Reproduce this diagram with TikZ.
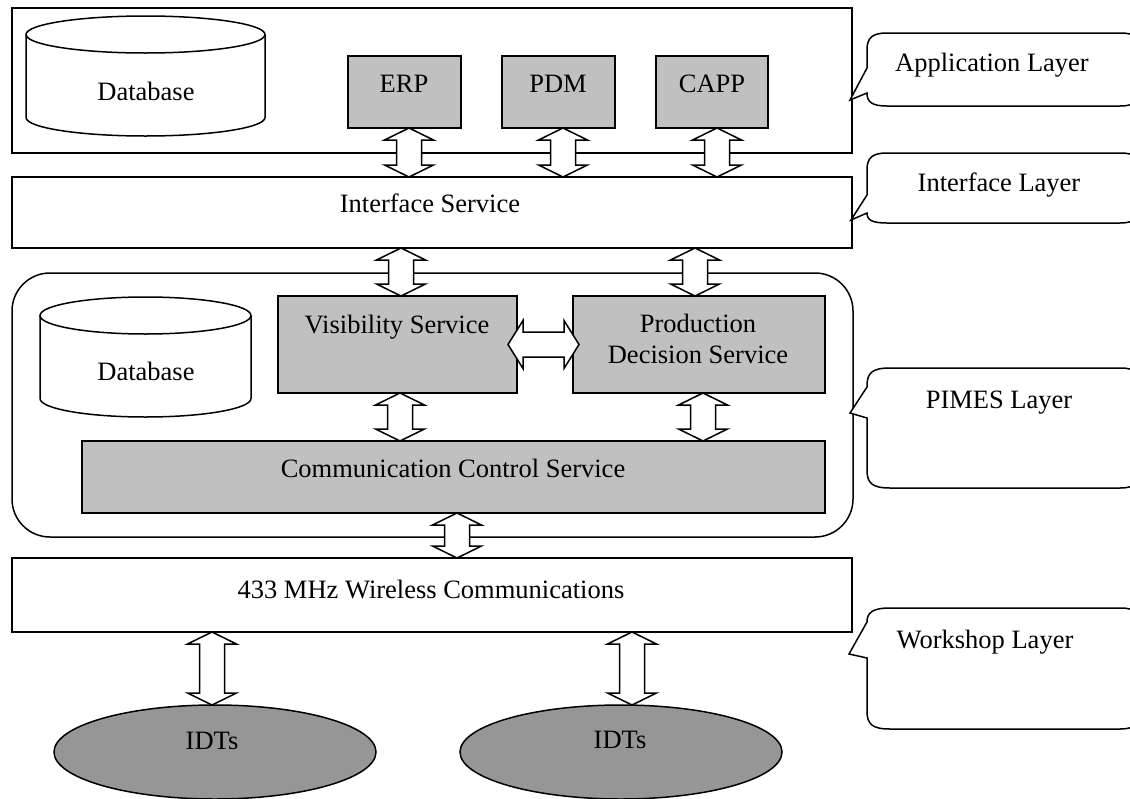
\documentclass[tikz,border=0pt]{standalone}
\usepackage{fontspec}
\setmainfont{Liberation Serif}
\usetikzlibrary{shapes.geometric,calc}
\definecolor{boxgray}{HTML}{C0C0C0}
\definecolor{idtgray}{HTML}{969696}
\newcommand{\dblV}[3]{\draw[barrow] let \p1=#1, \p2=#2, \p3=#3 in
  (\x1,\y2) -- (\x1+24.5pt,\y2-12pt) -- (\x1+12.5pt,\y2-12pt) -- (\x1+12.5pt,\y3+12pt)
  -- (\x1+24.5pt,\y3+12pt) -- (\x1,\y3) -- (\x1-24.5pt,\y3+12pt) -- (\x1-12.5pt,\y3+12pt)
  -- (\x1-12.5pt,\y2-12pt) -- (\x1-24.5pt,\y2-12pt) -- cycle;}
\newcommand{\dblH}[2]{\draw[barrow] let \p1=#1, \p2=#2 in
  (\x1,\y1) -- (\x1+15pt,\y1+24pt) -- (\x1+15pt,\y1+12.5pt) -- (\x2-15pt,\y1+12.5pt)
  -- (\x2-15pt,\y1+24pt) -- (\x2,\y1) -- (\x2-15pt,\y1-24pt) -- (\x2-15pt,\y1-12.5pt)
  -- (\x1+15pt,\y1-12.5pt) -- (\x1+15pt,\y1-24pt) -- cycle;}
\begin{document}
\begin{tikzpicture}[x=1pt,y=-1pt, line width=1.5pt, line join=miter,
  box/.style={draw, line width=1.5pt, anchor=north west, inner sep=0pt, outer sep=0pt},
  gbox/.style={box, fill=boxgray},
  lbl/.style={font=\fontsize{26.5}{31}\selectfont, inner sep=0pt, anchor=base},
  barrow/.style={draw, fill=white, line width=1.5pt},
  callout/.style={draw, fill=white, line width=1.5pt}]
\useasboundingbox (0,0) rectangle (1130,798);
\fill[white] (0,0) rectangle (1130,798);
\clip (0,0) rectangle (1130,798);

% Application layer
\node[box, minimum width=840pt, minimum height=145pt] (app) at (12,8) {};
\draw[fill=white] (26,34.5) -- (26,117.5) arc[start angle=180,end angle=360,x radius=119.5pt,y radius=18.5pt] -- (265,34.5);
\draw (145.5,34.5) ellipse[x radius=119.5pt, y radius=18.5pt];
\node[lbl] (db1t) at (146,100) {Database};
\node[gbox, minimum width=113pt, minimum height=72pt] (erp) at (348,56) {};
\node[lbl] (erpt) at (404,92) {ERP};
\node[gbox, minimum width=113pt, minimum height=72pt] (pdm) at (502,56) {};
\node[lbl] (pdmt) at (558,92) {PDM};
\node[gbox, minimum width=112pt, minimum height=72pt] (capp) at (656,56) {};
\node[lbl] (cappt) at (712,92) {CAPP};

% Interface layer
\node[box, minimum width=840pt, minimum height=71pt] (iface) at (12,177) {};
\node[lbl] (ifacet) at (430,212) {Interface Service};

% PIMES layer
\node[box, rounded corners=38pt, minimum width=841pt, minimum height=264pt] (pimes) at (12,273) {};
\draw[fill=white] (40,315.5) -- (40,398.5) arc[start angle=180,end angle=360,x radius=105.5pt,y radius=18.5pt] -- (251,315.5);
\draw (145.5,315.5) ellipse[x radius=105.5pt, y radius=18.5pt];
\node[lbl] (db2t) at (146,380) {Database};
\node[gbox, minimum width=239pt, minimum height=97pt] (vis) at (278,296) {};
\node[lbl] (vist) at (397,333) {Visibility Service};
\node[gbox, minimum width=252pt, minimum height=97pt] (prod) at (573,296) {};
\node[lbl] (prodt1) at (698,332) {Production};
\node[lbl] (prodt2) at (698,363) {Decision Service};
\node[gbox, minimum width=743pt, minimum height=72pt] (comm) at (82,441) {};
\node[lbl] (commt) at (453,477) {Communication Control Service};

% Workshop layer
\node[box, minimum width=840pt, minimum height=74pt] (wless) at (12,558) {};
\node[lbl] (wlesst) at (431,598) {433 MHz Wireless Communications};
\node[draw, ellipse, fill=idtgray, minimum width=322pt, minimum height=94pt, inner sep=0pt, outer sep=0pt] (idt1) at (215,752) {};
\node[lbl] (idt1t) at (212,749) {IDTs};
\node[draw, ellipse, fill=idtgray, minimum width=322pt, minimum height=94pt, inner sep=0pt, outer sep=0pt] (idt2) at (621,752) {};
\node[lbl] (idt2t) at (620,748) {IDTs};

% Block arrows
\dblV{([xshift=4.5pt]erp.south)}{(erp.south)}{(iface.north)}
\dblV{([xshift=4.5pt]pdm.south)}{(pdm.south)}{(iface.north)}
\dblV{([xshift=5pt]capp.south)}{(capp.south)}{(iface.north)}
\dblV{([xshift=3.5pt]vis.north)}{(iface.south)}{(vis.north)}
\dblV{([xshift=-4pt]prod.north)}{(iface.south)}{(prod.north)}
\dblH{([xshift=-9pt]vis.east)}{([xshift=6pt]prod.west)}
\dblV{([xshift=2.5pt]vis.south)}{(vis.south)}{(comm.north)}
\dblV{([xshift=4pt]prod.south)}{(prod.south)}{(comm.north)}
\dblV{([xshift=3.5pt]comm.south)}{(comm.south)}{(wless.north)}
\dblV{([xshift=-3pt]idt1.north)}{(wless.south)}{(idt1.north)}
\dblV{([xshift=11pt]idt2.north)}{(wless.south)}{(idt2.north)}

% Callouts
\draw[callout] (850,100) -- (867,93) .. controls (867,102) and (872,106) .. (887,106) -- (1120,106) .. controls (1136,106) and (1140,100) .. (1140,88) -- (1140,51) .. controls (1140,38) and (1136,33) .. (1120,33) -- (887,33) .. controls (872,33) and (867,38) .. (867,50) -- (867,68) -- cycle;
\node[lbl] (appl) at (992,71) {Application Layer};
\draw[callout] (851,220) -- (867,213) .. controls (867,220) and (872,223) .. (887,223) -- (1120,223) .. controls (1136,223) and (1140,217) .. (1140,205) -- (1140,171) .. controls (1140,158) and (1136,153) .. (1120,153) -- (887,153) .. controls (872,153) and (867,158) .. (867,170) -- (867,195) -- cycle;
\node[lbl] (ifl) at (999,191) {Interface Layer};
\draw[callout] (850,413) -- (867,418) -- (867,470) .. controls (867,483) and (872,488) .. (890,488) -- (1120,488) .. controls (1136,488) and (1140,482) .. (1140,470) -- (1140,386) .. controls (1140,373) and (1136,368) .. (1120,368) -- (890,368) .. controls (872,368) and (867,373) .. (867,386) -- (867,387) -- cycle;
\node[lbl] (pimesl) at (999,408) {PIMES Layer};
\draw[callout] (849,654) -- (867,658) -- (867,711) .. controls (867,724) and (872,729) .. (890,729) -- (1120,729) .. controls (1136,729) and (1140,723) .. (1140,711) -- (1140,626) .. controls (1140,613) and (1136,608) .. (1120,608) -- (890,608) .. controls (872,608) and (867,613) .. (867,622) -- cycle;
\node[lbl] (workl) at (985,648) {Workshop Layer};
\end{tikzpicture}
\end{document}
